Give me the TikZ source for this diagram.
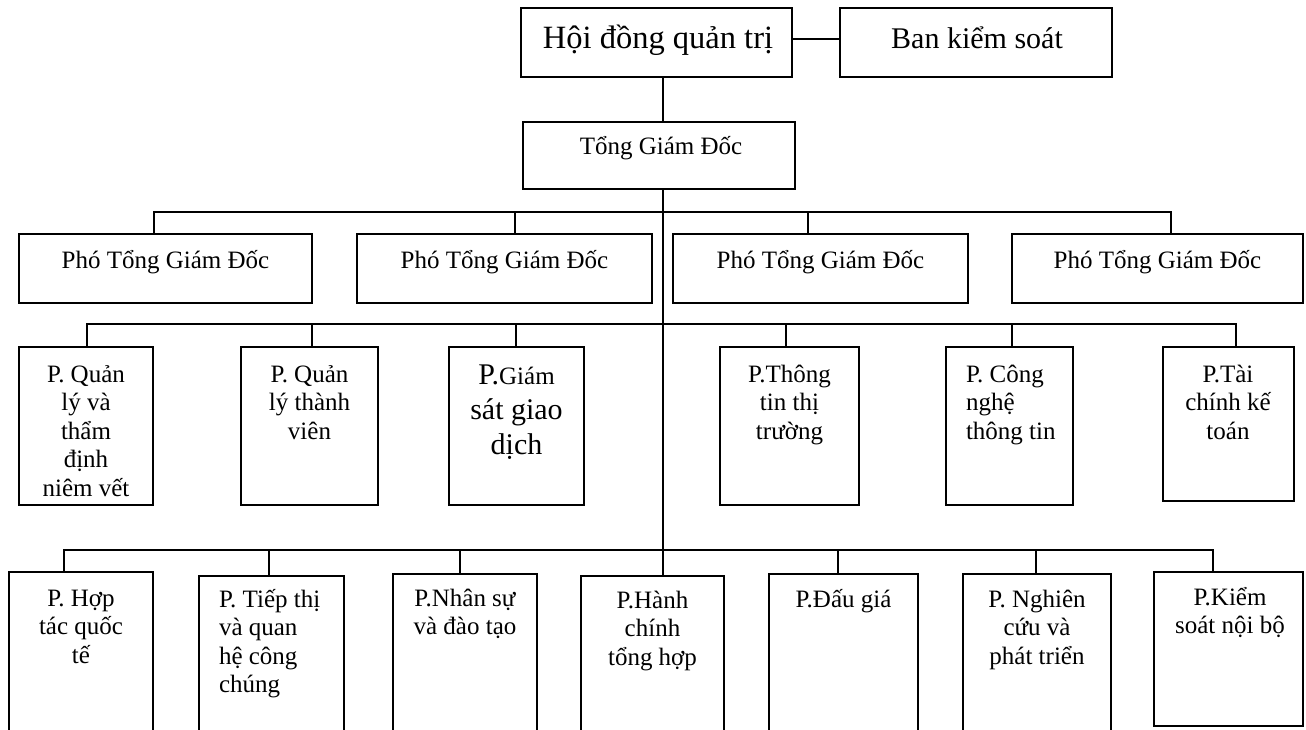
\documentclass[tikz,border=0pt]{standalone}
\usepackage{fontspec}
\setmainfont{Liberation Serif}
\tikzset{
  box/.style={draw, line width=1.5pt, inner sep=0pt, outer sep=0pt, anchor=north west},
  conn/.style={line width=1.4pt},
  lbl/.style={inner sep=0pt, outer sep=0pt, anchor=base, font=\fontsize{25}{28.5}\selectfont},
  lbll/.style={inner sep=0pt, outer sep=0pt, anchor=base west, font=\fontsize{25}{28.5}\selectfont},
}
\newcommand{\cpar}[1]{\parbox[t]{150pt}{\centering #1}}
\newcommand{\lpar}[1]{\parbox[t]{150pt}{\raggedright #1}}
\begin{document}
\begin{tikzpicture}[x=1pt,y=-1pt]
\useasboundingbox (0,0) rectangle (1306,729);
\clip (0,0) rectangle (1306,729);

% ---- top level
\node[box, minimum width=271pt, minimum height=69pt] (hdqt) at (521,8) {};
\node[box, minimum width=272pt, minimum height=69pt] (bks) at (840,8) {};
\node[box, minimum width=272pt, minimum height=67pt] (tgd) at (523,122) {};
\node[lbl, font=\fontsize{32.5}{37}\selectfont] (thdqt) at (658,48) {Hội đồng quản trị};
\node[lbl, font=\fontsize{30}{35}\selectfont] (tbks) at (977,48) {Ban kiểm soát};
\node[lbl] (ttgd) at (661,154) {Tổng Giám Đốc};

% ---- deputies
\node[box, minimum width=293pt, minimum height=69pt] (pgd1) at (19,234) {};
\node[box, minimum width=295pt, minimum height=69pt] (pgd2) at (357,234) {};
\node[box, minimum width=295pt, minimum height=69pt] (pgd3) at (673,234) {};
\node[box, minimum width=291pt, minimum height=69pt] (pgd4) at (1012,234) {};
\node[lbl] (tpgd1) at (165.5,268) {Phó Tổng Giám Đốc};
\node[lbl] (tpgd2) at (504.5,268) {Phó Tổng Giám Đốc};
\node[lbl] (tpgd3) at (820.5,268) {Phó Tổng Giám Đốc};
\node[lbl] (tpgd4) at (1157.5,268) {Phó Tổng Giám Đốc};

% ---- middle row
\node[box, minimum width=134pt, minimum height=158pt] (m1) at (19,347) {};
\node[box, minimum width=137pt, minimum height=158pt] (m2) at (241,347) {};
\node[box, minimum width=135pt, minimum height=158pt] (m3) at (449,347) {};
\node[box, minimum width=139pt, minimum height=158pt] (m4) at (720,347) {};
\node[box, minimum width=127pt, minimum height=158pt] (m5) at (946,347) {};
\node[box, minimum width=131pt, minimum height=154pt] (m6) at (1163,347) {};
\node[lbl] (tm1) at (86,382) {\cpar{P. Quản\\lý và\\thẩm\\định\\niêm vết}};
\node[lbl] (tm2) at (309.5,382) {\cpar{P. Quản\\lý thành\\viên}};
\node[lbl] (tm3) at (516.5,384) {\cpar{\fontsize{30}{35}\selectfont P.{\fontsize{25}{35}\selectfont Giám}\\sát giao\\dịch}};
\node[lbl] (tm4) at (789.5,382) {\cpar{P.Thông\\tin thị\\trường}};
\node[lbll] (tm5) at (966,382) {\lpar{P. Công\\nghệ\\thông tin}};
\node[lbl] (tm6) at (1228,382) {\cpar{P.Tài\\chính kế\\toán}};

% ---- bottom row
\node[box, minimum width=144pt, minimum height=180pt] (d1) at (9,572) {};
\node[box, minimum width=145pt, minimum height=180pt] (d2) at (199,576) {};
\node[box, minimum width=144pt, minimum height=180pt] (d3) at (393,574) {};
\node[box, minimum width=143pt, minimum height=180pt] (d4) at (581,576) {};
\node[box, minimum width=149pt, minimum height=180pt] (d5) at (769,574) {};
\node[box, minimum width=148pt, minimum height=180pt] (d6) at (963,574) {};
\node[box, minimum width=149pt, minimum height=154pt] (d7) at (1154,572) {};
\node[lbl] (td1) at (81,606) {\cpar{P. Hợp\\tác quốc\\tế}};
\node[lbll] (td2) at (219,607) {\lpar{P. Tiếp thị\\và quan\\hệ công\\chúng}};
\node[lbl] (td3) at (465,606) {\cpar{P.Nhân sự\\và đào tạo}};
\node[lbl] (td4) at (652.5,608) {\cpar{P.Hành\\chính\\tổng hợp}};
\node[lbl] (td5) at (843.5,607) {P.Đấu giá};
\node[lbl] (td6) at (1037,607) {\cpar{P. Nghiên\\cứu và\\phát triển}};
\node[lbl] (td7) at (1230,605) {\cpar{P.Kiểm\\soát nội bộ}};

% ---- connectors
\coordinate (v) at (663,0);
\draw[conn] ([yshift=3.5pt]hdqt.east) -- ([yshift=3.5pt]bks.west);
\draw[conn] (hdqt.south -| v) -- (tgd.north -| v);
\draw[conn] (tgd.south -| v) -- (d4.north -| v);

% deputies bus
\coordinate (pa) at (154,212);
\coordinate (pb) at (515,212);
\coordinate (pc) at (808,212);
\coordinate (pd) at (1171,212);
\draw[conn] (pa |- pgd1.north) -- (pa) -- (pd) -- (pd |- pgd4.north);
\draw[conn] (pb) -- (pb |- pgd2.north);
\draw[conn] (pc) -- (pc |- pgd3.north);

% middle bus
\coordinate (ma) at (87,324);
\coordinate (mb) at (312,324);
\coordinate (mc) at (516,324);
\coordinate (md) at (786,324);
\coordinate (me) at (1012,324);
\coordinate (mf) at (1236,324);
\draw[conn] (ma |- m1.north) -- (ma) -- (mf) -- (mf |- m6.north);
\draw[conn] (mb) -- (mb |- m2.north);
\draw[conn] (mc) -- (mc |- m3.north);
\draw[conn] (md) -- (md |- m4.north);
\draw[conn] (me) -- (me |- m5.north);

% bottom bus
\coordinate (ba) at (64,550);
\coordinate (bb) at (269,550);
\coordinate (bc) at (460,550);
\coordinate (bd) at (838,550);
\coordinate (be) at (1036,550);
\coordinate (bf) at (1213,550);
\draw[conn] (ba |- d1.north) -- (ba) -- (bf) -- (bf |- d7.north);
\draw[conn] (bb) -- (bb |- d2.north);
\draw[conn] (bc) -- (bc |- d3.north);
\draw[conn] (bd) -- (bd |- d5.north);
\draw[conn] (be) -- (be |- d6.north);
\end{tikzpicture}
\end{document}
